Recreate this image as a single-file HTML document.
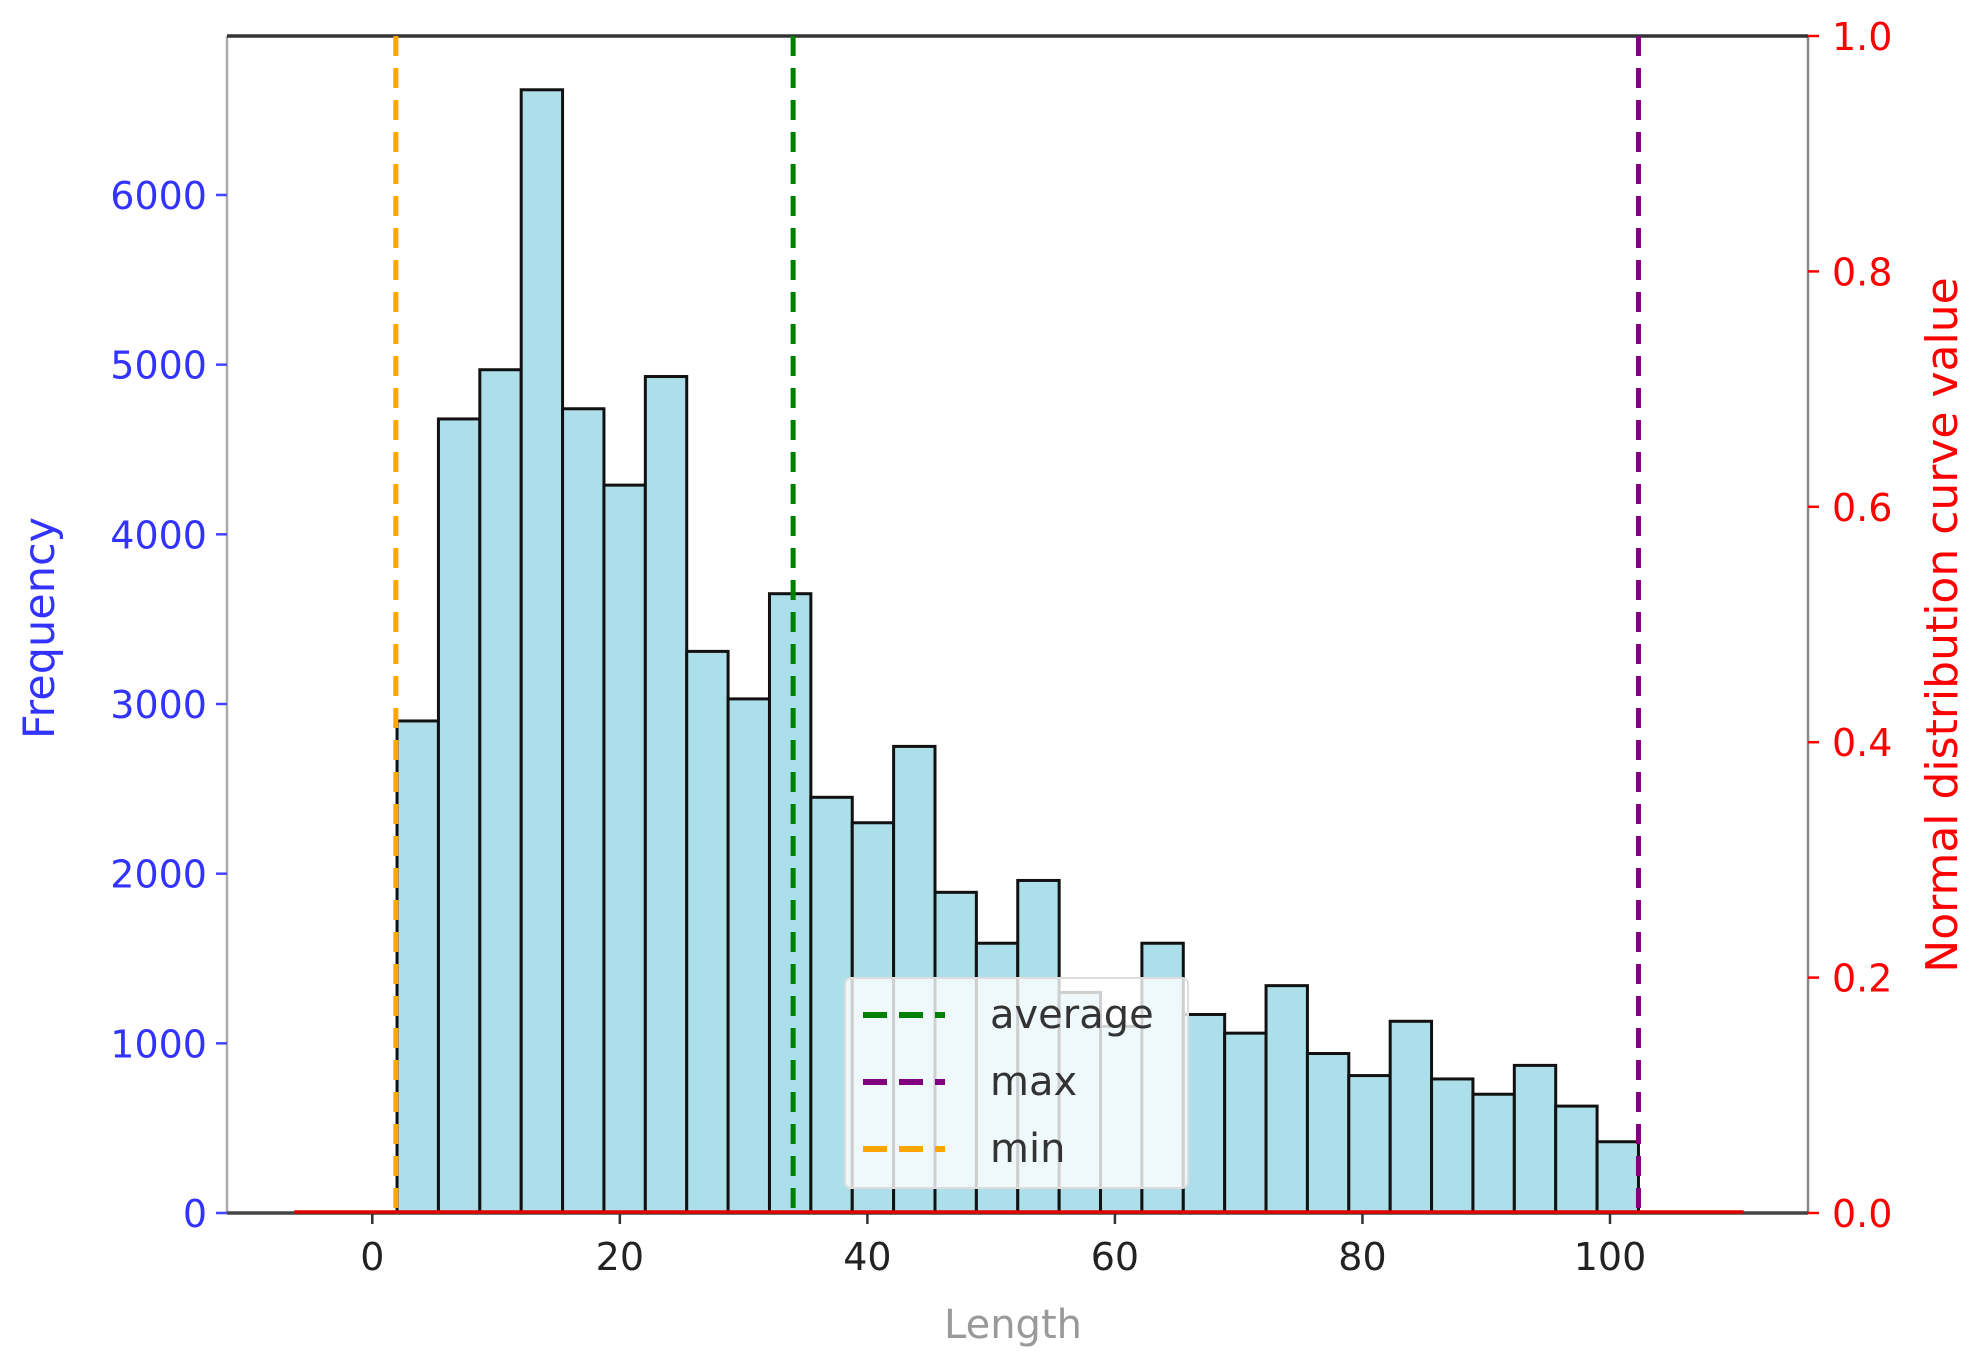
<!DOCTYPE html>
<html><head><meta charset="utf-8"><style>
html,body{margin:0;padding:0;background:#fff;}
svg{display:block;font-family:"DejaVu Sans","Liberation Sans",sans-serif;}
</style></head><body>
<svg id="chart" width="1980" height="1361" viewBox="0 0 1980 1361" xmlns="http://www.w3.org/2000/svg">
<g id="bars"></g>
<g id="axes"></g>
<g id="lines"></g>
<g id="legend"></g>
</svg>
<script>
const binStart = 2;
const binEnd = 102.3;
const counts = [2900,4680,4970,6620,4740,4290,4930,3310,3030,3650,2450,2300,2750,1890,1590,1960,1300,1100,1590,1170,1060,1340,940,810,1130,790,700,870,630,420];
const xTicks = [0,20,40,60,80,100];
const yTicks = [0,1000,2000,3000,4000,5000,6000];
const y2Ticks = [0.0,0.2,0.4,0.6,0.8,1.0];
const statValues = [34.0,102.3,1.9];
const statLabels = ["average","max","min"];
const statColors = ["#008000","#800080","#FFA500"];
const curveRange = [-6.3,110.8];

const NS="http://www.w3.org/2000/svg";
const L=227,R=1808,T=36,B=1213;
function sx(v){return 372.3+v*12.377;}
function sy(v){return B-v*0.16967;}
function sy2(v){return B-v*(B-T);}
function el(tag,attrs,parent,text){const e=document.createElementNS(NS,tag);for(const k in attrs)e.setAttribute(k,attrs[k]);if(text!==undefined)e.textContent=text;parent.appendChild(e);return e;}
const bars=document.getElementById('bars'),lines=document.getElementById('lines'),axes=document.getElementById('axes'),leg=document.getElementById('legend');
const w=(binEnd-binStart)/counts.length;
counts.forEach((c,i)=>{
  const x0=sx(binStart+i*w),x1=sx(binStart+(i+1)*w);
  const r=el('rect',{x:x0,y:sy(c),width:x1-x0,height:sy(0)-sy(c),fill:'#ADDFEA',stroke:'#111','stroke-width':3},bars);
  
  
});
// spines
el('line',{x1:L,x2:L,y1:T,y2:B,stroke:'#aaa','stroke-width':2.5},axes);
el('line',{x1:R,x2:R,y1:T,y2:B,stroke:'#888','stroke-width':2.5},axes);
el('line',{x1:L,x2:R,y1:T,y2:T,stroke:'#333','stroke-width':3.5},axes);
el('line',{x1:L,x2:R,y1:B,y2:B,stroke:'#444','stroke-width':3.5},axes);
xTicks.forEach(t=>{
  el('line',{x1:sx(t),x2:sx(t),y1:B,y2:B+11,stroke:'#333','stroke-width':2.5},axes);
  const tx=el('text',{x:sx(t),y:B+57,'text-anchor':'middle','font-size':38,fill:'#222'},axes,String(t));
  
  
});
yTicks.forEach(t=>{
  el('line',{x1:L-11,x2:L,y1:sy(t),y2:sy(t),stroke:'#44f','stroke-width':2.5},axes);
  const tx=el('text',{x:L-20,y:sy(t)+14,'text-anchor':'end','font-size':38,fill:'#3333ff'},axes,String(t));
  
  
});
y2Ticks.forEach(t=>{
  el('line',{x1:R,x2:R+11,y1:sy2(t),y2:sy2(t),stroke:'#f00','stroke-width':2.5},axes);
  const tx=el('text',{x:R+24,y:sy2(t)+14,'font-size':38,fill:'#ff0000'},axes,t.toFixed(1));
  
  
});
const xt=el('text',{x:1013,y:1338,'text-anchor':'middle','font-size':40,fill:'#999'},axes,'Length');


const yt=el('text',{x:0,y:0,'text-anchor':'middle','font-size':43,fill:'#3333ff',transform:'translate(54,628) rotate(-90)'},axes,'Frequency');


const y2t=el('text',{x:0,y:0,'text-anchor':'middle','font-size':44,fill:'#ff0000',transform:'translate(1957,625) rotate(-90)'},axes,'Normal distribution curve value');


// red curve
const cv=el('line',{x1:sx(curveRange[0]),x2:sx(curveRange[1]),y1:sy2(0)-1,y2:sy2(0)-1,stroke:'#e00000','stroke-width':3.5},lines);


statValues.forEach((v,i)=>{
  const l=el('line',{x1:sx(v),x2:sx(v),y1:T,y2:B,stroke:statColors[i],'stroke-width':5,'stroke-dasharray':'20 12'},lines);
  
  
});
// legend
el('rect',{x:845,y:978,width:343,height:210,rx:6,fill:'rgba(255,255,255,0.8)',stroke:'#ddd','stroke-width':2},leg);
statLabels.forEach((s,i)=>{
  const yy=1015+i*67;
  el('line',{x1:863,x2:945,y1:yy,y2:yy,stroke:statColors[i],'stroke-width':6,'stroke-dasharray':'24 12'},leg);
  const tx=el('text',{x:990,y:yy+13,'font-size':40,fill:'#333'},leg,s);
  
  
});
</script>
</body></html>
